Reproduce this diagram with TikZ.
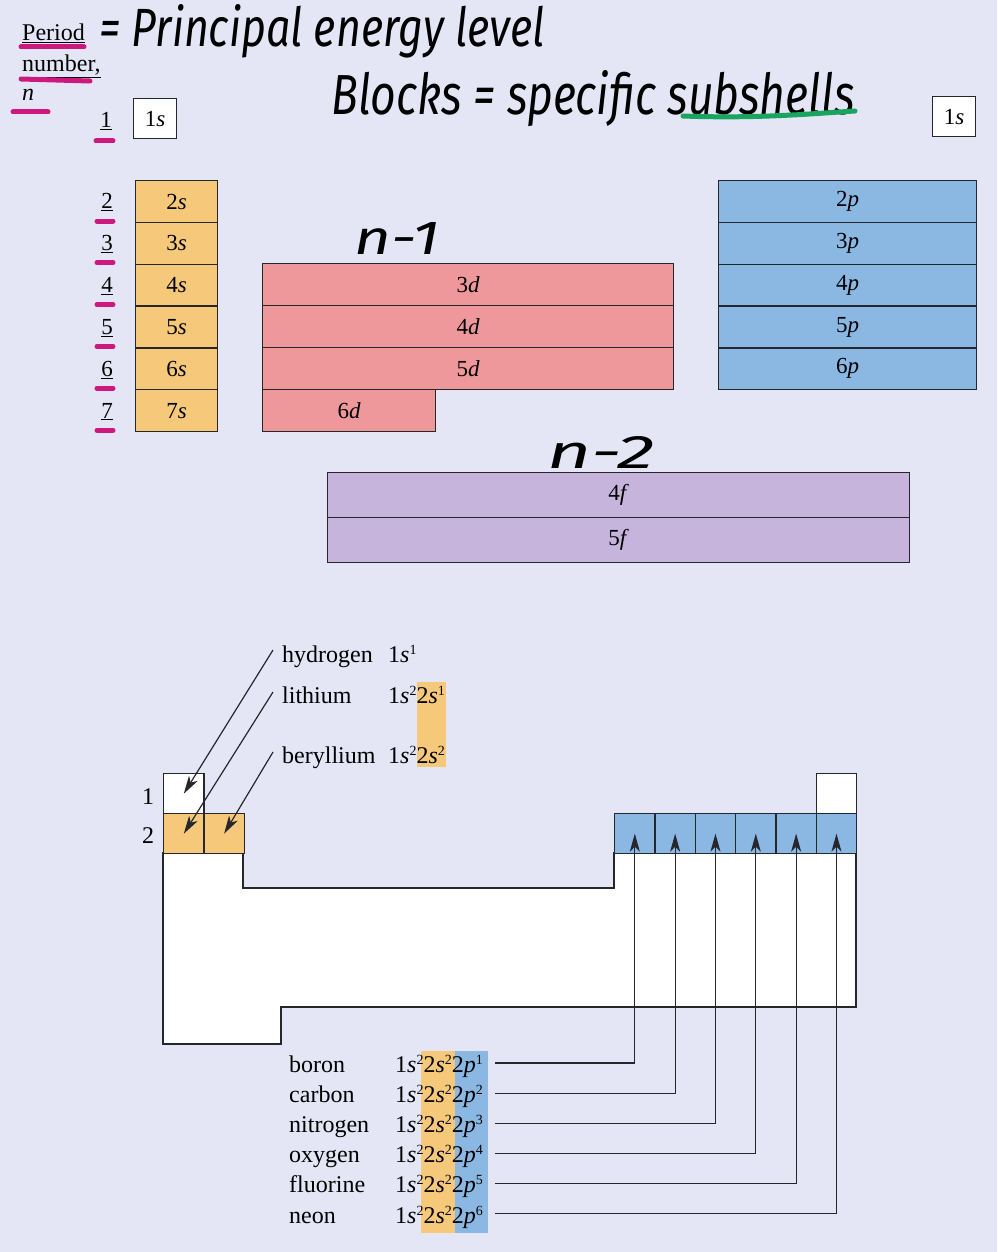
\documentclass[tikz,border=0pt]{standalone}
\usepackage{fontspec}
\setmainfont{Liberation Serif}
\newfontfamily\hand{Fira Sans}
\usepackage{graphicx}
\usetikzlibrary{arrows.meta}
\definecolor{bg}{RGB}{228,230,245}
\definecolor{linec}{RGB}{38,38,45}
\definecolor{sor}{RGB}{246,200,122}
\definecolor{dpk}{RGB}{238,152,156}
\definecolor{pbl}{RGB}{138,184,226}
\definecolor{fpu}{RGB}{198,180,220}
\definecolor{mag}{RGB}{205,25,125}
\definecolor{grn}{RGB}{25,165,95}
\newcommand{\sups}[1]{\raisebox{0.33em}{\fontsize{14}{14}\selectfont #1}}
\begin{document}
\begin{tikzpicture}[x=1pt,y=-1pt,
  cell/.style={draw=linec,line width=1.3pt,inner sep=0pt,anchor=north west,font=\fontsize{23}{26}\selectfont},
  sc/.style={cell,fill=sor,minimum width=82pt,minimum height=41.83pt},
  dc/.style={cell,fill=dpk,minimum width=411pt,minimum height=41.9pt},
  pc/.style={cell,fill=pbl,minimum width=258pt,minimum height=41.8pt},
  fc/.style={cell,fill=fpu,minimum width=582pt,minimum height=45pt},
  wbox/.style={cell,fill=white,minimum width=43pt,minimum height=40pt},
  tc/.style={draw=linec,line width=1.3pt,inner sep=0pt,anchor=north west,minimum width=40.33pt,minimum height=40pt},
  num/.style={font=\fontsize{23}{26}\selectfont,inner sep=0pt,anchor=base},
  txt/.style={font=\fontsize{24}{28}\selectfont,inner sep=0pt,anchor=base west},
  hw/.style={inner sep=0pt},
  mk/.style={draw=mag,line width=5pt,line cap=round},
  arr/.style={draw=linec,line width=1.2pt,-{Stealth[length=18pt,width=10pt,inset=5pt]}}
]
\useasboundingbox (0,0) rectangle (997,1252);
\fill[bg] (0,0) rectangle (997,1252);

% ---- top header ----
\node[txt] (per) at (22,41) {\underline{Period}};
\node[txt] (numb) at (22,72) {\underline{number,}};
\node[txt] (nn) at (22,101) {\textit{n}};
\draw[mk] (21,47) -- (84,47);
\draw[mk] (21,79) -- (90,81);
\draw[mk] (13,112) -- (48,112);

\node[hw] (title) at (322,31) {\resizebox{445pt}{42pt}{\hand\itshape = Principal energy level}};
\node[hw] (blk) at (593,99) {\resizebox{523pt}{44pt}{\hand\itshape Blocks = specific subshells}};
\draw[draw=grn,line width=5pt,line cap=round] (683,116) .. controls (760,119) and (820,113) .. (855,111);

% period numbers
\node[num] (n1) at (106,128) {\underline{1}};
\draw[mk] (96,141) -- (113,141);
\foreach \i in {2,...,7}{
  \node[num] (n\i) at (107,{180+(\i-2)*41.83+20.9+8}) {\underline{\i}};
  \draw[mk] (97,{180+(\i-2)*41.83+41}) -- (113,{180+(\i-2)*41.83+41});
}

% 1s boxes
\node[wbox] (s1) at (133,98) {1\textit{s}};
\node[wbox] (s1r) at (932,96) {1\textit{s}};

% s block
\foreach \i in {2,...,7}
  \node[sc] (s\i) at (135,{180+(\i-2)*41.83}) {\i\textit{s}};
% d block
\foreach \i in {3,4,5}
  \node[dc] (d\i) at (262,{263+(\i-3)*41.9}) {\i\textit{d}};
\node[dc,minimum width=173pt] (d6) at (262,388.7) {6\textit{d}};
% p block
\foreach \i in {2,...,6}
  \node[pc] (p\i) at (718,{180+(\i-2)*41.8}) {\i\textit{p}};
% f block
\node[fc] (f4) at (327,472) {4\textit{f}};
\node[fc] (f5) at (327,517) {5\textit{f}};

\node[hw] (nm1) at (397,238) {\resizebox{85pt}{32pt}{\hand\itshape n-1}};
\node[hw] (nm2) at (601,452) {\resizebox{107pt}{32pt}{\hand\itshape n-2}};

% ---- bottom table ----
\filldraw[fill=white,draw=linec,line width=1.3pt]
  (163,853) -- (163,1044) -- (281,1044) -- (281,1007) -- (856,1007) -- (856,853)
  -- (614,853) -- (614,888) -- (243,888) -- (243,853) -- cycle;
\node[tc,fill=white] (eH) at (163,773) {};
\node[tc,fill=sor] (eLi) at (163,813) {};
\node[tc,fill=sor] (eBe) at (203.33,813) {};
\foreach \k/\nm in {0/eB,1/eC,2/eN,3/eO,4/eF,5/eNe}
  \node[tc,fill=pbl] (\nm) at ({614+\k*40.33},813) {};
\node[tc,fill=white] (eHe) at (815.67,773) {};
\node[num,anchor=center,font=\fontsize{24}{28}\selectfont] (r1) at (148,797) {1};
\node[num,anchor=center,font=\fontsize{24}{28}\selectfont] (r2) at (148,836) {2};

% top labels
\fill[sor] (417,682) rectangle (446,767);
\node[txt] (hyd) at (282,662) {hydrogen};
\node[txt] (hydc) at (388,662) {1\textit{s}\sups{1}};
\node[txt] (lit) at (282,703) {lithium};
\node[txt] (litc) at (388,703) {1\textit{s}\sups{2}2\textit{s}\sups{1}};
\node[txt] (ber) at (282,763) {beryllium};
\node[txt] (berc) at (388,763) {1\textit{s}\sups{2}2\textit{s}\sups{2}};
\coordinate (hS) at (273,650);
\coordinate (lS) at (273,692);
\coordinate (bS) at (273,752);
\draw[arr] (hS) -- (eH.center);
\draw[arr] (lS) -- (eLi.center);
\draw[arr] (bS) -- (eBe.center);

% bottom labels
\fill[sor] (421,1051) rectangle (455,1233);
\fill[pbl] (455,1051) rectangle (488,1233);
\foreach \k/\el/\nm/\e in {0/boron/eB/1,1/carbon/eC/2,2/nitrogen/eN/3,3/oxygen/eO/4,4/fluorine/eF/5,5/neon/eNe/6}{
  \node[txt] (l\nm) at (289,{1072+\k*30.2}) {\el};
  \node[txt] (c\nm) at (395,{1072+\k*30.2}) {1\textit{s}\sups{2}2\textit{s}\sups{2}2\textit{p}\sups{\e}};
  \coordinate (q\nm) at (495,{1063+\k*30.1});
  \draw[arr] (q\nm) -| (\nm.center);
}
\end{tikzpicture}
\end{document}
